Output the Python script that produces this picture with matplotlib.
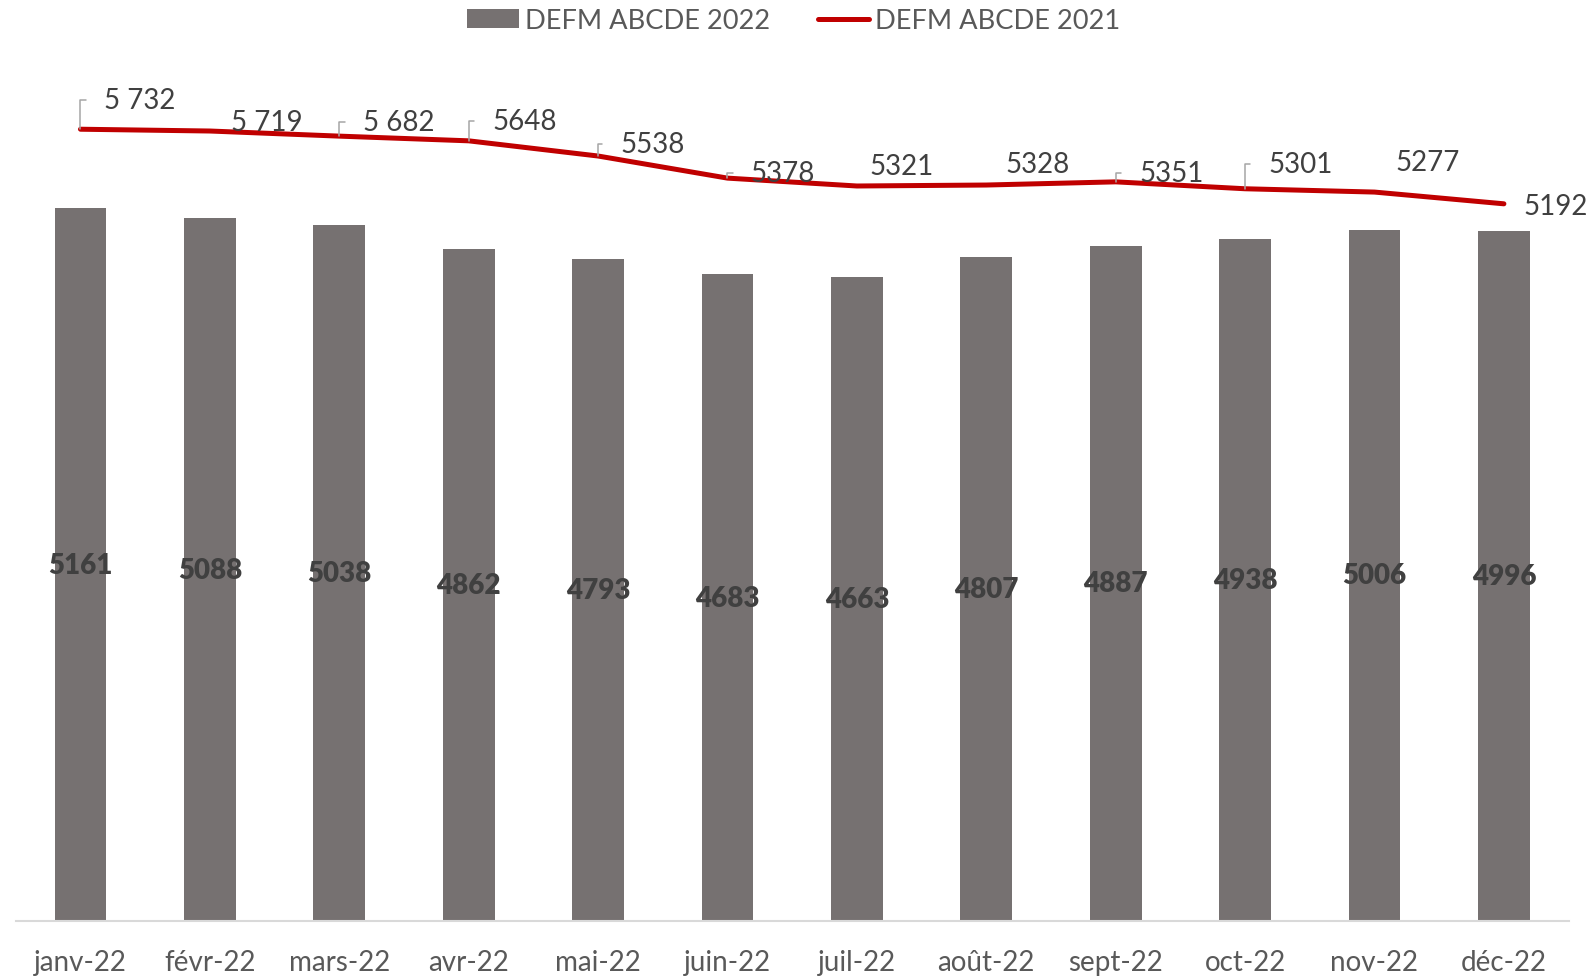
import matplotlib
matplotlib.use("Agg")
import matplotlib.pyplot as plt
from matplotlib.lines import Line2D
from matplotlib.patches import Patch

plt.rcParams['font.family'] = ['Lato', 'DejaVu Sans']

months = ['janv-22', 'févr-22', 'mars-22', 'avr-22', 'mai-22', 'juin-22',
          'juil-22', 'août-22', 'sept-22', 'oct-22', 'nov-22', 'déc-22']
defm_2022 = [5161, 5088, 5038, 4862, 4793, 4683, 4663, 4807, 4887, 4938, 5006, 4996]
defm_2021 = [5732, 5719, 5682, 5648, 5538, 5378, 5321, 5328, 5351, 5301, 5277, 5192]
labels_2021 = ['5 732', '5 719', '5 682', '5648', '5538', '5378',
               '5321', '5328', '5351', '5301', '5277', '5192']

# label placement for the 2021 line (offset points, alignment, leader line)
label_style = [
    ((16.8, 21.2), 'left', True),
    ((15.4, 6.6), 'left', False),
    ((16.8, 10.2), 'left', True),
    ((16.8, 14.6), 'left', True),
    ((16.1, 8.8), 'left', True),
    ((16.8, 3.7), 'left', True),
    ((32.2, 14.6), 'center', False),
    ((36.6, 15.4), 'center', False),
    ((16.8, 6.6), 'left', True),
    ((16.8, 17.5), 'left', True),
    ((38.0, 21.9), 'center', False),
    ((13.9, -1.5), 'left', False),
]

bar_color = '#767171'
line_color = '#C00000'
text_dark = '#404040'
text_grey = '#595959'

fig = plt.figure(figsize=(15.92, 9.79), dpi=100)
ax = fig.add_axes([0.0099, 0.0582, 0.9754, 0.8466])

x = range(len(months))
ax.bar(x, defm_2022, width=0.4, color=bar_color, zorder=2)
ax.plot(x, defm_2021, color=line_color, lw=3.6, solid_capstyle='round',
        solid_joinstyle='round', zorder=3)

for i, v in enumerate(defm_2022):
    ax.text(i, v / 2, str(v), ha='center', va='center', fontsize=20,
            fontweight='heavy', color=text_dark, zorder=4)

for i, (v, lab, st) in enumerate(zip(defm_2021, labels_2021, label_style)):
    (dx, dy), ha, leader = st
    kw = {}
    if leader:
        kw['arrowprops'] = dict(arrowstyle='-', color='#A6A6A6', lw=1.1,
                                connectionstyle='angle,angleA=0,angleB=90,rad=0',
                                relpos=(0, 0.5), shrinkA=11, shrinkB=0)
    ax.annotate(lab, xy=(i, v), xytext=(dx, dy), textcoords='offset points',
                ha=ha, va='center', fontsize=20, color=text_dark, zorder=5, **kw)

ax.set_xlim(-0.5, len(months) - 0.5)
ax.set_ylim(0, 6000)
ax.set_xticks(list(x))
ax.set_xticklabels(months, fontsize=20, color=text_grey)
ax.tick_params(axis='x', length=0, pad=20)
ax.set_yticks([])
for s in ['top', 'right', 'left']:
    ax.spines[s].set_visible(False)
ax.spines['bottom'].set_color('#D9D9D9')
ax.spines['bottom'].set_linewidth(1.5)

handles = [Patch(facecolor=bar_color, label='DEFM ABCDE 2022'),
           Line2D([0], [0], color=line_color, lw=3.6, solid_capstyle='round',
                  label='DEFM ABCDE 2021')]
leg = fig.legend(handles=handles, loc='center', bbox_to_anchor=(0.4985, 0.978),
                 ncol=2, frameon=False, fontsize=19.6, handlelength=1.9,
                 handletextpad=0.22, columnspacing=1.76, borderaxespad=0)
for t in leg.get_texts():
    t.set_color(text_grey)

fig.savefig('out.png', dpi=100)
